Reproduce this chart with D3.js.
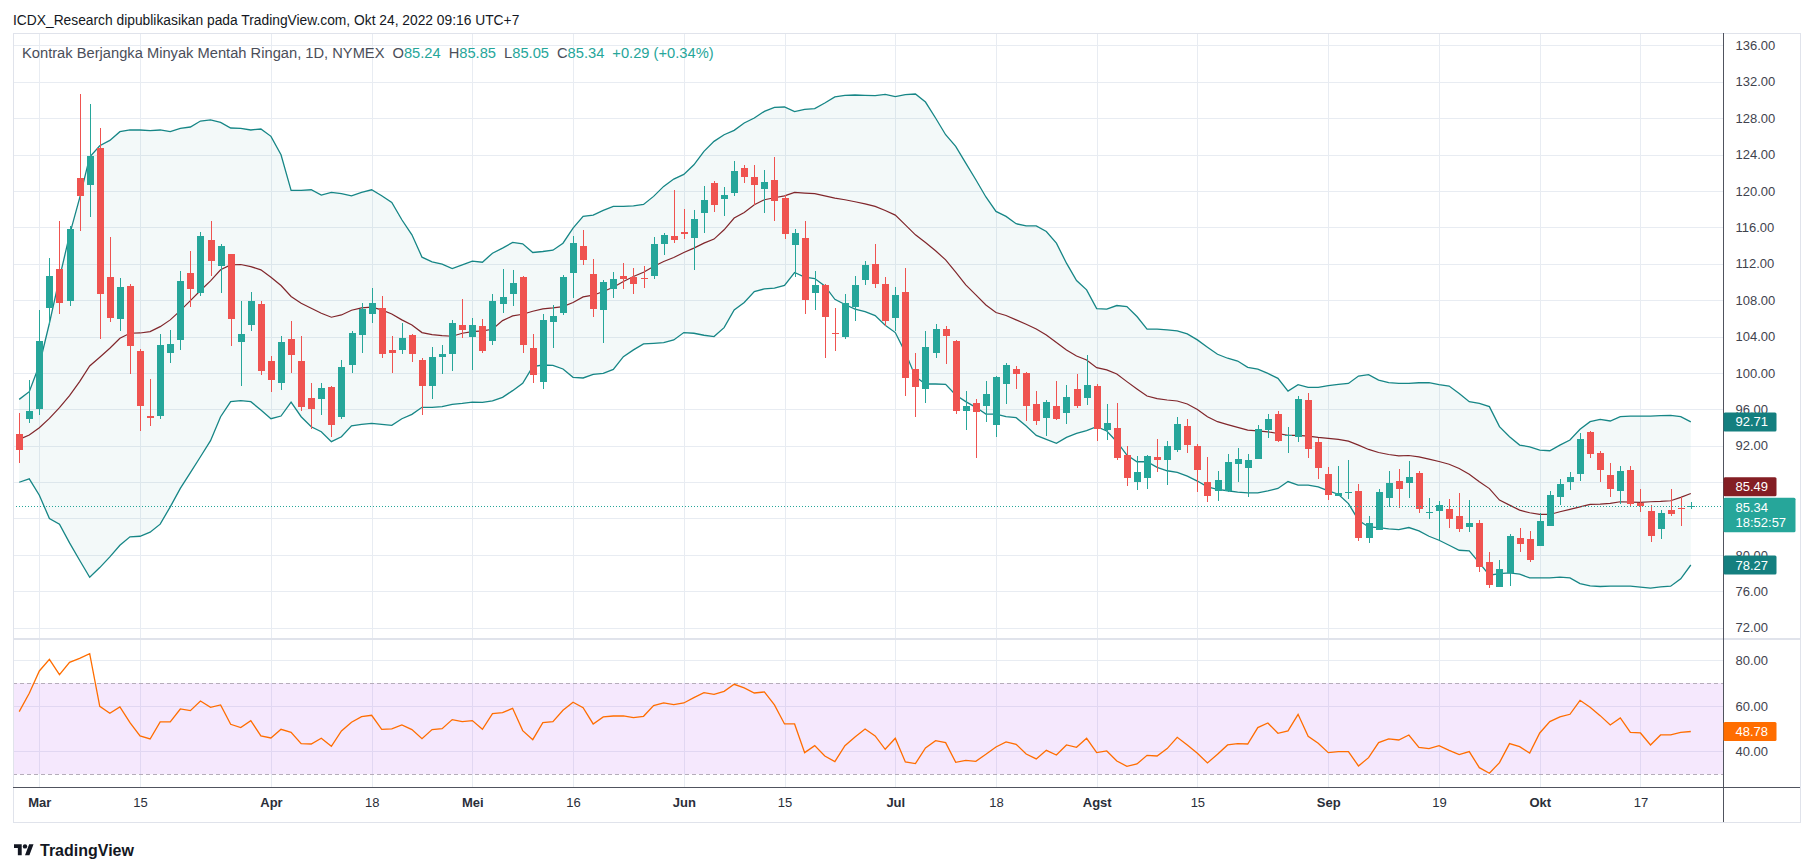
<!DOCTYPE html>
<html>
<head>
<meta charset="utf-8" />
<title>Kontrak Berjangka Minyak Mentah Ringan, 1D, NYMEX</title>
<script src="https://cdnjs.cloudflare.com/ajax/libs/d3/7.8.5/d3.min.js"></script>
<style>
  html, body { margin: 0; padding: 0; background: #ffffff; }
  svg { display: block; font-family: "Liberation Sans", Roboto, sans-serif; }
</style>
</head>
<body>
<script>
// ---- data (Feb 25 .. Oct 24 2022, daily) ----
var holidays = ["2022-04-15", "2022-05-30", "2022-06-20", "2022-07-04", "2022-09-05"];

var opens = [93.32, 94.90, 96.00, 107.14, 111.40, 107.91, 121.41, 120.68, 124.71, 110.52,
  105.93, 109.53, 102.38, 95.23, 95.26, 102.19, 103.62, 110.96, 108.79, 114.59,
  111.76, 113.05, 103.40, 105.24, 107.55, 101.28, 98.89, 103.70, 101.28, 97.21,
  97.10, 98.42, 95.15, 100.87, 104.14, 106.48, 107.11, 102.49, 102.52, 104.14,
  101.39, 98.56, 101.72, 102.05, 105.24, 103.95, 105.13, 103.51, 107.58, 108.68,
  110.52, 102.71, 99.00, 105.60, 106.59, 110.99, 113.93, 110.85, 106.92, 109.23,
  110.63, 110.52, 110.41, 110.66, 114.19, 115.03, 115.47, 114.85, 117.60, 120.86,
  119.14, 119.80, 122.47, 121.48, 120.24, 121.19, 119.21, 114.07, 114.81, 108.79,
  109.64, 104.43, 103.95, 107.22, 110.22, 111.95, 109.75, 106.04, 108.87, 100.40,
  98.23, 102.19, 104.80, 103.48, 95.81, 96.66, 96.36, 94.27, 98.78, 100.39,
  99.95, 96.54, 95.04, 96.32, 95.59, 98.19, 97.24, 98.52, 93.68, 93.90,
  90.93, 87.99, 88.44, 90.71, 90.42, 91.52, 94.12, 91.96, 87.96, 87.01,
  87.01, 89.98, 89.54, 90.53, 93.72, 95.44, 93.02, 92.95, 96.98, 92.36,
  88.84, 86.46, 86.82, 86.97, 81.84, 82.72, 86.24, 88.07, 87.89, 88.95,
  84.59, 84.81, 84.99, 84.22, 83.05, 83.56, 79.27, 76.45, 77.99, 81.91,
  81.80, 80.96, 83.16, 86.38, 88.00, 88.92, 93.46, 91.15, 88.73, 87.01,
  89.28, 85.69, 84.77, 82.83, 84.88, 85.10, 85.24];

var highs = [95.63, 99.19, 106.89, 112.64, 116.68, 116.13, 130.65, 129.55, 126.91, 114.95,
  110.41, 109.75, 102.60, 99.30, 104.25, 104.69, 111.18, 113.38, 115.43, 116.68,
  114.22, 113.10, 107.91, 108.87, 107.91, 101.83, 104.03, 105.68, 104.03, 98.86,
  98.86, 98.53, 101.39, 104.58, 107.66, 109.31, 108.43, 104.03, 105.46, 104.25,
  101.61, 102.82, 103.04, 105.79, 108.10, 106.01, 105.90, 108.65, 111.40, 111.29,
  110.60, 104.25, 106.45, 107.44, 110.74, 115.03, 115.69, 112.50, 110.19, 111.07,
  112.06, 111.51, 111.73, 114.92, 115.36, 120.09, 118.00, 117.89, 120.53, 121.08,
  120.42, 123.28, 122.84, 122.84, 122.29, 123.72, 119.57, 115.80, 116.68, 111.18,
  109.82, 107.11, 108.65, 110.63, 112.28, 114.19, 110.56, 109.42, 111.51, 102.16,
  104.58, 105.35, 105.16, 103.59, 97.98, 97.10, 99.07, 99.62, 101.09, 100.72,
  100.06, 97.97, 96.98, 99.07, 98.63, 99.84, 101.93, 98.74, 96.54, 96.65,
  91.92, 90.82, 90.93, 92.69, 92.47, 95.11, 94.89, 92.14, 90.75, 89.17,
  91.04, 91.70, 91.04, 94.23, 95.44, 95.77, 94.01, 97.42, 97.75, 92.84,
  89.61, 89.72, 90.38, 87.74, 84.22, 87.19, 89.17, 89.39, 90.27, 89.17,
  86.21, 85.87, 86.09, 86.75, 85.98, 83.86, 80.37, 79.49, 82.32, 82.94,
  82.61, 84.63, 86.97, 88.37, 89.10, 93.35, 93.65, 91.37, 90.05, 89.72,
  89.72, 87.19, 85.43, 84.96, 87.19, 86.35, 85.85];

var lows = [90.09, 94.49, 95.34, 105.24, 106.45, 107.33, 115.58, 117.16, 103.73, 105.60,
  104.61, 99.88, 93.61, 94.13, 94.90, 101.09, 102.52, 107.25, 108.46, 110.66,
  108.79, 102.96, 98.56, 104.58, 99.77, 97.87, 98.09, 99.96, 95.81, 93.83,
  95.37, 92.95, 94.93, 99.99, 102.19, 105.49, 101.64, 99.99, 102.08, 101.17,
  95.37, 97.13, 99.88, 100.21, 103.84, 100.32, 102.19, 103.07, 106.59, 107.36,
  102.19, 98.89, 98.23, 102.74, 106.37, 108.21, 111.87, 106.15, 103.29, 108.24,
  109.23, 108.68, 109.34, 110.34, 112.98, 114.29, 114.73, 111.32, 115.39, 117.71,
  117.27, 119.47, 120.90, 118.44, 117.60, 116.72, 114.70, 110.56, 106.45, 106.92,
  101.68, 102.41, 103.73, 105.71, 109.64, 109.34, 105.13, 104.61, 97.46, 95.15,
  96.69, 101.64, 100.98, 95.48, 93.72, 90.64, 94.60, 92.95, 96.58, 98.23,
  94.71, 94.27, 93.06, 94.82, 94.38, 96.10, 96.47, 92.51, 92.62, 90.42,
  87.56, 87.12, 87.23, 89.10, 87.67, 91.30, 91.19, 86.90, 85.80, 85.91,
  86.90, 88.00, 86.35, 90.53, 92.84, 92.40, 91.23, 92.40, 90.64, 88.33,
  86.02, 86.46, 86.13, 81.51, 81.29, 82.72, 85.25, 85.14, 86.24, 84.59,
  83.93, 81.62, 83.01, 82.50, 82.50, 78.10, 76.34, 76.45, 76.60, 80.37,
  79.20, 80.96, 83.16, 85.43, 87.08, 88.07, 90.64, 88.04, 86.35, 85.62,
  85.25, 84.70, 81.40, 81.73, 84.26, 83.16, 85.05];

var closes = [91.56, 95.78, 103.48, 110.63, 107.69, 115.80, 119.47, 123.83, 108.68, 106.04,
  109.42, 102.96, 96.36, 95.05, 103.04, 103.15, 110.08, 109.23, 115.03, 112.31,
  113.93, 105.93, 104.25, 107.88, 100.18, 99.22, 103.37, 101.94, 96.22, 96.03,
  98.31, 94.27, 100.62, 104.36, 107.03, 107.66, 102.08, 102.19, 103.81, 102.08,
  98.56, 101.72, 102.05, 105.46, 104.69, 105.24, 102.41, 107.88, 108.32, 109.86,
  103.07, 99.81, 105.79, 106.23, 110.52, 114.26, 112.42, 107.03, 109.97, 110.30,
  110.30, 109.78, 110.34, 114.15, 115.14, 114.63, 115.25, 116.90, 118.99, 118.48,
  119.54, 122.18, 121.56, 120.68, 120.93, 118.92, 115.29, 115.36, 108.02, 109.64,
  106.16, 104.28, 107.66, 109.64, 111.84, 109.78, 105.71, 108.54, 99.44, 98.45,
  102.82, 104.80, 104.06, 95.81, 96.33, 95.70, 97.65, 99.51, 100.83, 99.88,
  96.36, 94.71, 96.76, 94.93, 97.31, 96.32, 98.63, 93.83, 94.45, 90.64,
  88.44, 89.06, 90.82, 90.42, 91.92, 94.34, 92.07, 89.32, 86.46, 88.18,
  90.16, 90.49, 90.38, 93.79, 94.89, 92.51, 93.13, 97.09, 91.63, 89.54,
  86.57, 86.83, 86.89, 81.84, 83.56, 86.86, 87.85, 87.23, 88.51, 85.03,
  84.74, 85.43, 83.93, 82.83, 83.56, 78.65, 76.71, 78.50, 82.13, 81.18,
  79.42, 83.67, 86.53, 87.74, 88.51, 92.69, 91.12, 89.32, 87.27, 89.17,
  85.62, 85.36, 82.06, 84.55, 84.48, 85.05, 85.34];

// Bollinger Bands (20, 2) as drawn; the overlay sits on its own price scale
var bbUpper = [94.98, 95.76, 98.45, 102.66, 107.21, 111.58, 115.29, 119.43, 120.57, 121.11,
  121.99, 122.16, 122.16, 122.09, 122.16, 121.99, 122.32, 122.46, 123.06, 123.17,
  122.93, 122.36, 122.32, 122.16, 122.26, 121.52, 119.66, 116.06, 116.06, 116.13,
  115.59, 115.86, 115.73, 115.52, 115.86, 116.13, 115.52, 114.85, 113.10, 111.58,
  109.33, 108.86, 108.62, 108.18, 108.55, 108.92, 108.82, 109.73, 110.24, 110.81,
  110.67, 109.80, 109.90, 110.03, 110.74, 112.26, 113.44, 113.57, 114.04, 114.45,
  114.45, 114.51, 114.65, 115.46, 116.47, 117.21, 117.68, 118.65, 120.00, 121.01,
  121.68, 122.12, 122.86, 123.37, 124.04, 124.45, 124.48, 124.01, 124.24, 124.31,
  124.88, 125.49, 125.66, 125.69, 125.66, 125.62, 125.76, 125.52, 125.72, 125.79,
  124.98, 123.37, 121.68, 120.51, 118.82, 117.14, 115.40, 113.94, 113.44, 112.70,
  112.49, 112.49, 111.92, 110.74, 108.72, 106.97, 106.03, 104.14, 104.08, 104.45,
  104.35, 103.34, 102.06, 102.06, 101.99, 101.89, 101.58, 100.98, 100.24, 99.53,
  99.13, 98.85, 98.21, 98.04, 97.60, 97.10, 95.82, 96.46, 96.19, 96.19,
  96.36, 96.49, 96.59, 97.33, 97.47, 96.93, 96.66, 96.59, 96.59, 96.66,
  96.66, 96.46, 96.32, 95.58, 94.74, 94.58, 94.25, 92.23, 91.22, 90.37,
  90.20, 89.87, 89.80, 90.37, 90.88, 91.96, 92.73, 92.97, 92.80, 93.24,
  93.30, 93.30, 93.30, 93.34, 93.37, 93.24, 92.71];

var bbBasis = [90.94, 91.38, 92.12, 93.06, 94.14, 95.35, 96.77, 98.35, 99.23, 100.14,
  101.15, 101.65, 101.68, 101.82, 102.32, 103.00, 103.94, 104.95, 105.96, 106.94,
  108.05, 108.55, 108.59, 108.38, 108.05, 107.31, 106.47, 105.36, 104.68, 104.18,
  103.67, 103.27, 103.50, 103.97, 104.21, 104.28, 104.01, 103.60, 103.00, 102.49,
  101.72, 101.52, 101.42, 101.35, 101.65, 101.82, 101.89, 102.05, 102.93, 103.40,
  103.57, 103.87, 104.11, 104.21, 104.34, 104.75, 105.32, 105.49, 105.86, 106.30,
  106.87, 107.37, 107.81, 108.38, 108.89, 109.29, 109.80, 110.24, 110.74, 111.15,
  112.09, 113.27, 113.84, 114.61, 115.12, 115.32, 115.52, 115.86, 115.79, 115.73,
  115.52, 115.29, 115.12, 114.92, 114.71, 114.45, 114.04, 113.57, 112.59, 111.58,
  110.81, 109.97, 109.06, 107.81, 106.53, 105.52, 104.50, 103.74, 103.44, 103.00,
  102.56, 102.09, 101.48, 100.71, 99.97, 99.36, 98.96, 98.18, 97.95, 97.54,
  96.77, 96.03, 95.32, 95.05, 94.92, 94.82, 94.51, 93.97, 93.23, 92.73,
  92.43, 92.15, 91.88, 91.81, 91.71, 91.54, 91.34, 91.34, 91.27, 91.14,
  91.04, 90.94, 90.77, 90.36, 89.93, 89.62, 89.42, 89.29, 89.32, 89.18,
  88.95, 88.71, 88.44, 88.01, 87.43, 86.67, 85.98, 84.82, 84.31, 83.81,
  83.54, 83.37, 83.37, 83.64, 83.88, 84.14, 84.38, 84.41, 84.48, 84.65,
  84.62, 84.58, 84.65, 84.68, 84.75, 85.09, 85.49];

var bbLower = [86.62, 86.96, 85.31, 82.96, 82.39, 80.50, 78.75, 77.03, 78.01, 79.09,
  80.26, 81.11, 81.17, 81.58, 82.39, 84.14, 86.00, 87.60, 89.19, 90.81,
  93.23, 94.75, 94.85, 94.75, 93.91, 93.03, 93.30, 94.71, 93.23, 92.22,
  91.72, 90.71, 91.21, 92.32, 92.46, 92.56, 92.46, 92.36, 93.03, 93.47,
  94.18, 94.18, 94.24, 94.48, 94.58, 94.71, 94.68, 94.82, 95.19, 95.86,
  96.60, 98.28, 98.45, 98.42, 98.05, 97.21, 97.14, 97.51, 97.61, 98.01,
  99.29, 99.97, 100.57, 100.64, 100.71, 100.98, 101.72, 101.65, 101.45, 101.32,
  102.22, 104.01, 104.75, 105.86, 106.13, 106.20, 106.47, 107.78, 107.31, 107.17,
  106.43, 105.08, 104.55, 104.08, 103.84, 103.44, 102.46, 101.72, 99.70, 97.27,
  96.53, 96.53, 96.50, 95.42, 94.75, 94.18, 93.50, 93.50, 93.23, 93.13,
  92.29, 91.35, 90.95, 90.54, 91.15, 91.55, 91.82, 92.22, 91.79, 90.71,
  89.36, 88.69, 88.69, 88.12, 87.78, 87.61, 87.24, 86.74, 86.16, 85.89,
  85.76, 85.62, 85.55, 85.55, 85.75, 85.99, 86.69, 86.32, 86.32, 86.15,
  85.75, 85.41, 84.47, 82.79, 82.11, 82.05, 81.91, 81.84, 82.05, 81.71,
  81.17, 80.77, 80.26, 79.76, 79.69, 78.49, 77.24, 77.41, 77.48, 77.34,
  76.97, 76.97, 76.97, 77.04, 76.97, 76.40, 76.16, 76.10, 76.13, 76.13,
  76.13, 76.03, 75.93, 76.06, 76.13, 76.87, 78.27];

// RSI (14)
var rsi = [57.49, 65.53, 75.32, 80.44, 73.71, 79.12, 80.88, 82.92, 59.82, 56.75,
  59.53, 52.66, 46.81, 45.50, 52.95, 52.95, 58.65, 57.92, 62.16, 59.39,
  60.41, 51.93, 50.47, 53.54, 46.81, 45.94, 49.74, 48.42, 43.45, 43.30,
  45.79, 42.28, 49.01, 52.81, 55.29, 55.88, 49.74, 49.88, 51.64, 49.59,
  45.64, 49.59, 50.03, 53.98, 53.10, 53.54, 49.74, 56.61, 57.05, 58.95,
  49.15, 45.20, 52.66, 53.10, 58.07, 61.58, 59.24, 52.08, 55.15, 55.58,
  55.58, 54.85, 55.44, 60.12, 61.29, 60.56, 61.29, 63.63, 65.82, 65.09,
  66.40, 69.47, 67.87, 65.67, 66.11, 60.41, 52.08, 52.08, 39.50, 42.57,
  38.04, 35.56, 42.57, 46.37, 49.88, 46.81, 40.96, 45.79, 35.41, 34.68,
  41.55, 44.77, 43.89, 35.26, 36.14, 35.70, 38.77, 41.99, 44.18, 43.16,
  38.92, 36.73, 40.53, 38.48, 42.87, 41.84, 45.79, 39.50, 40.23, 35.85,
  33.51, 34.53, 38.33, 38.04, 41.26, 46.23, 42.87, 39.21, 34.97, 38.77,
  42.87, 43.45, 43.30, 50.47, 52.51, 47.98, 49.01, 56.32, 46.67, 43.60,
  39.50, 39.94, 39.94, 33.65, 37.31, 43.89, 45.50, 45.06, 47.25, 41.84,
  41.26, 42.57, 40.53, 38.63, 39.94, 32.92, 30.44, 35.12, 43.45, 42.13,
  39.36, 48.13, 53.10, 55.15, 56.32, 62.46, 59.39, 55.73, 51.64, 54.71,
  48.42, 48.13, 42.87, 47.25, 47.25, 48.42, 48.78];

var tickDates = ["2022-03-01", "2022-03-15", "2022-04-01", "2022-04-18", "2022-05-02", "2022-05-16",
  "2022-06-01", "2022-06-15", "2022-07-01", "2022-07-18", "2022-08-01", "2022-08-15",
  "2022-09-01", "2022-09-19", "2022-10-03", "2022-10-17"];
var tickLabels = ["Mar", "15", "Apr", "18", "Mei", "16", "Jun", "15", "Jul", "18", "Agst", "15", "Sep", "19", "Okt", "17"];
var monthLabels = ["Mar", "Apr", "Mei", "Jun", "Jul", "Agst", "Sep", "Okt"];
var priceTicks = [72, 76, 80, 84, 88, 92, 96, 100, 104, 108, 112, 116, 120, 124, 128, 132, 136];
var coveredTicks = [84, 88];   // hidden behind the last-value labels in the reference
var rsiTicks = [40, 60, 80];
var rsiBand = [30, 70];

// trading days (weekdays without exchange holidays)
var dates = [];
for (var d = new Date(Date.UTC(2022, 1, 25)); d <= new Date(Date.UTC(2022, 9, 24)); d.setUTCDate(d.getUTCDate() + 1)) {
    var iso = d.toISOString().slice(0, 10);
    if (d.getUTCDay() !== 0 && d.getUTCDay() !== 6 && holidays.indexOf(iso) < 0) dates.push(iso);
}
var bars = dates.map(function(t, i) {
    return {t: t, o: opens[i], h: highs[i], l: lows[i], c: closes[i]};
});

// ---- layout ----
var width = 1813, height = 866;
var padL = 13, padR = 1800, padT = 33, padB = 822;
var axisX = 1723.5;
var mainBottom = 638, rsiBottom = 787;
var up = "#26a69a", down = "#ef5350";
var gridColor = "#e8ecf2", frameColor = "#e0e3eb", axisColor = "#50535e";

var svg = d3.select("body").append("svg")
    .attr("width", width)
    .attr("height", height);

var x = d3.scalePoint().domain(dates).range([19.2, 1690.8]);
var y = d3.scaleLinear().domain([d3.min(lows), d3.max(highs)]).range([588.2, 94]);
// the band overlay is auto-fitted to the same margins on its own scale
var yBB = d3.scaleLinear().domain([d3.min(bbLower), d3.max(bbUpper)]).range([588.2, 94]);
var yR = d3.scaleLinear().domain([30, 70]).range([774.3, 683.1]);

var defs = svg.append("defs");
defs.append("clipPath").attr("id", "clipMain")
    .append("rect").attr("x", padL).attr("y", padT).attr("width", axisX - padL).attr("height", mainBottom - padT);
defs.append("clipPath").attr("id", "clipRsi")
    .append("rect").attr("x", padL).attr("y", mainBottom).attr("width", axisX - padL).attr("height", rsiBottom - mainBottom);

// ---- grid ----
var grid = svg.append("g").attr("shape-rendering", "crispEdges").attr("stroke", gridColor);
grid.selectAll("line.v").data(tickDates).enter().append("line")
    .attr("x1", function(t) { return Math.round(x(t)) + 0.5; })
    .attr("x2", function(t) { return Math.round(x(t)) + 0.5; })
    .attr("y1", padT).attr("y2", rsiBottom);
grid.selectAll("line.h").data(priceTicks).enter().append("line")
    .attr("x1", padL).attr("x2", axisX)
    .attr("y1", function(p) { return Math.round(y(p)) + 0.5; })
    .attr("y2", function(p) { return Math.round(y(p)) + 0.5; });
grid.selectAll("line.r").data(rsiTicks).enter().append("line")
    .attr("x1", padL).attr("x2", axisX)
    .attr("y1", function(v) { return Math.round(yR(v)) + 0.5; })
    .attr("y2", function(v) { return Math.round(yR(v)) + 0.5; });

// ---- main pane ----
var mainG = svg.append("g").attr("clip-path", "url(#clipMain)");

mainG.append("path")
    .datum(dates)
    .attr("fill", "rgba(19,132,132,0.05)")
    .attr("d", d3.area()
        .x(function(t) { return x(t); })
        .y0(function(t, i) { return yBB(bbLower[i]); })
        .y1(function(t, i) { return yBB(bbUpper[i]); }));

[[bbUpper, "#168686", 1.3], [bbLower, "#168686", 1.3], [bbBasis, "#80262b", 1.2]].forEach(function(s) {
    mainG.append("path")
        .datum(dates)
        .attr("fill", "none")
        .attr("stroke", s[1])
        .attr("stroke-width", s[2])
        .attr("d", d3.line()
            .x(function(t) { return x(t); })
            .y(function(t, i) { return yBB(s[0][i]); }));
});

var candle = mainG.selectAll("g.candle").data(bars).enter().append("g")
    .attr("class", "candle")
    .attr("shape-rendering", "crispEdges")
    .attr("fill", function(b) { return b.c >= b.o ? up : down; })
    .attr("stroke", function(b) { return b.c >= b.o ? up : down; });
candle.append("line")
    .attr("x1", function(b) { return Math.round(x(b.t)) + 0.5; })
    .attr("x2", function(b) { return Math.round(x(b.t)) + 0.5; })
    .attr("y1", function(b) { return y(b.h); })
    .attr("y2", function(b) { return y(b.l); });
candle.append("rect")
    .attr("stroke", "none")
    .attr("x", function(b) { return Math.round(x(b.t)) - 3; })
    .attr("width", 7)
    .attr("y", function(b) { return y(Math.max(b.o, b.c)); })
    .attr("height", function(b) { return Math.max(1, Math.abs(y(b.o) - y(b.c))); });

var last = bars.length - 1;
mainG.append("line")
    .attr("x1", padL).attr("x2", axisX)
    .attr("y1", Math.round(y(closes[last])) + 0.5).attr("y2", Math.round(y(closes[last])) + 0.5)
    .attr("stroke", up).attr("stroke-dasharray", "1,2");

// ---- RSI pane ----
var rsiG = svg.append("g");
rsiG.append("rect")
    .attr("x", padL).attr("width", axisX - padL)
    .attr("y", yR(rsiBand[1])).attr("height", yR(rsiBand[0]) - yR(rsiBand[1]))
    .attr("fill", "rgba(186,104,240,0.15)");
rsiG.selectAll("line.band").data(rsiBand).enter().append("line")
    .attr("x1", padL).attr("x2", axisX)
    .attr("y1", function(v) { return Math.round(yR(v)) + 0.5; })
    .attr("y2", function(v) { return Math.round(yR(v)) + 0.5; })
    .attr("stroke", "#b5adba").attr("stroke-dasharray", "4,3");
rsiG.append("path")
    .datum(dates)
    .attr("clip-path", "url(#clipRsi)")
    .attr("fill", "none")
    .attr("stroke", "#ff6d00")
    .attr("stroke-width", 1.3)
    .attr("d", d3.line()
        .x(function(t) { return x(t); })
        .y(function(t, i) { return yR(rsi[i]); }));

// ---- frame & separators ----
var frame = svg.append("g").attr("shape-rendering", "crispEdges");
frame.append("rect")
    .attr("x", padL + 0.5).attr("y", padT + 0.5)
    .attr("width", padR - padL).attr("height", padB - padT)
    .attr("fill", "none").attr("stroke", frameColor).attr("stroke-width", 1.5);
frame.append("line").attr("x1", padL).attr("x2", padR).attr("y1", mainBottom + 0.5).attr("y2", mainBottom + 0.5)
    .attr("stroke", frameColor).attr("stroke-width", 2);
frame.append("line").attr("x1", padL).attr("x2", padR).attr("y1", rsiBottom + 0.5).attr("y2", rsiBottom + 0.5)
    .attr("stroke", axisColor);
frame.append("line").attr("x1", axisX).attr("x2", axisX).attr("y1", padT).attr("y2", padB)
    .attr("stroke", axisColor);

// ---- axes ----
function styleAxis(g, size, color) {
    g.select(".domain").remove();
    g.selectAll("text").attr("font-size", size).attr("fill", color)
        .attr("font-family", "\"Liberation Sans\", Roboto, sans-serif");
}
svg.append("g")
    .attr("transform", "translate(" + axisX + ",0)")
    .call(d3.axisRight(y)
        .tickValues(priceTicks.filter(function(p) { return coveredTicks.indexOf(p) < 0; }))
        .tickFormat(d3.format(".2f")).tickSize(0).tickPadding(12))
    .call(styleAxis, 13, "#3f434e");
svg.append("g")
    .attr("transform", "translate(" + axisX + ",0)")
    .call(d3.axisRight(yR).tickValues(rsiTicks).tickFormat(d3.format(".2f")).tickSize(0).tickPadding(12))
    .call(styleAxis, 13, "#3f434e");
var xAxisG = svg.append("g")
    .attr("transform", "translate(0," + rsiBottom + ")")
    .call(d3.axisBottom(x).tickValues(tickDates).tickFormat(function(t, i) { return tickLabels[i]; }).tickSize(0).tickPadding(11))
    .call(styleAxis, 13, "#2a2e39");
xAxisG.selectAll("text").attr("font-weight", function(t, i) {
    return monthLabels.indexOf(tickLabels[i]) >= 0 ? "bold" : "normal";
});

// ---- last value labels on the price scale ----
function valueBox(yc, h, w, color, lines) {
    var g = svg.append("g");
    g.append("rect")
        .attr("x", axisX).attr("y", yc - h / 2)
        .attr("width", w).attr("height", h)
        .attr("rx", 1.5)
        .attr("fill", color);
    lines.forEach(function(s, i) {
        g.append("text")
            .attr("x", axisX + 12)
            .attr("y", yc - h / 2 + 9.5 + i * 15)
            .attr("dy", "0.35em")
            .attr("font-size", 13)
            .attr("fill", "#ffffff")
            .text(s);
    });
}
var fmt = d3.format(".2f");
var curTop = y(closes[last]) - 8.5;
valueBox(yBB(bbUpper[last]), 19, 53, "#147f7f", [fmt(bbUpper[last])]);
valueBox(Math.min(yBB(bbBasis[last]), curTop - 1.5 - 9.5), 19, 53, "#841e24", [fmt(bbBasis[last])]);
valueBox(yBB(bbLower[last]), 19, 53, "#147f7f", [fmt(bbLower[last])]);
valueBox(curTop + 17.25, 34.5, 72, up, [fmt(closes[last]), "18:52:57"]);
valueBox(yR(rsi[last]), 19, 53, "#ff6d00", [fmt(rsi[last])]);

// ---- header / legend ----
svg.append("text")
    .attr("x", 13).attr("y", 25)
    .attr("font-size", 13.8).attr("fill", "#131722")
    .text("ICDX_Research dipublikasikan pada TradingView.com, Okt 24, 2022 09:16 UTC+7");

var chg = closes[last] - closes[last - 1];
var legend = svg.append("text")
    .attr("x", 22).attr("y", 58)
    .attr("font-size", 14.7).attr("fill", "#4a4e59");
legend.append("tspan").text("Kontrak Berjangka Minyak Mentah Ringan, 1D, NYMEX");
[["O", opens[last]], ["H", highs[last]], ["L", lows[last]], ["C", closes[last]]].forEach(function(p) {
    legend.append("tspan").attr("dx", 8).text(p[0]);
    legend.append("tspan").attr("fill", up).text(fmt(p[1]));
});
legend.append("tspan").attr("dx", 8).attr("fill", up)
    .text((chg >= 0 ? "+" : "") + fmt(chg) + " (" + (chg >= 0 ? "+" : "") + fmt(chg / closes[last - 1] * 100) + "%)");

// ---- TradingView mark ----
var logo = svg.append("g").attr("transform", "translate(14,842) scale(0.55)").attr("fill", "#131722");
logo.append("path").attr("d", "M14 24H7V11H0V4h14v20zM28 24h-8l7.5-20h8L28 24z");
logo.append("circle").attr("cx", 20).attr("cy", 8).attr("r", 4);
svg.append("text")
    .attr("x", 40).attr("y", 856)
    .attr("font-size", 16).attr("font-weight", 600).attr("fill", "#131722")
    .text("TradingView");
</script>
</body>
</html>
